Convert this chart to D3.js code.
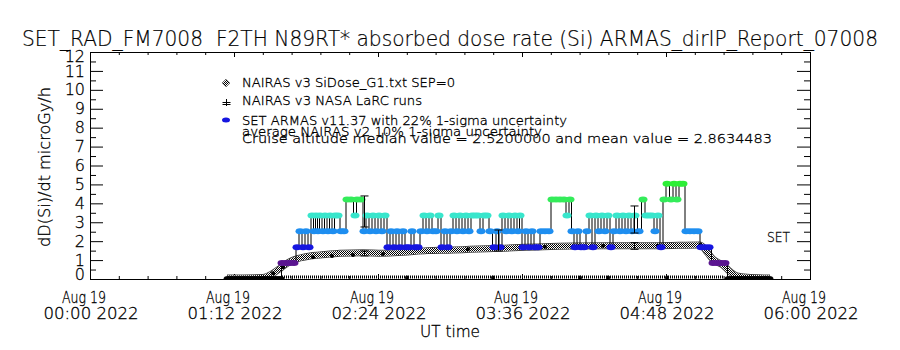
<!DOCTYPE html>
<html><head><meta charset="utf-8">
<script src="https://cdn.jsdelivr.net/npm/d3@7"></script>
<style>
body{margin:0;background:#fff;}
svg text{font-family:"DejaVu Sans",sans-serif;font-weight:200;fill:#000;white-space:pre;stroke:#000;stroke-width:0.3px;}
</style></head><body><svg id="c" width="900" height="350"></svg>
<script>
// ---------------- data ----------------
const title = "SET_RAD_FM7008  F2TH N89RT* absorbed dose rate (Si) ARMAS_dirIP_Report_07008";
const yLabel = "dD(Si)/dt microGy/h";
const xLabel = "UT time";
const yTicks = [0,1,2,3,4,5,6,7,8,9,10,11,12];
const yMinorTicks = [0.5,1.5,2.5,3.5,4.5,5.5,6.5,7.5,8.5,9.5,10.5,11.5];
const xMajorMinutes = [0,72,144,216,288,360];
const xMinorMinutes = [14.4,28.8,43.2,57.6,86.4,100.8,115.2,129.6,158.4,172.8,187.2,201.6,230.4,244.8,259.2,273.6,302.4,316.8,331.2,345.6];
const legendLabels = ["NAIRAS v3 SiDose_G1.txt SEP=0","NAIRAS v3 NASA LaRC runs","SET ARMAS v11.37 with 22% 1-sigma uncertainty"];
const noteLines = ["average NAIRAS v2 10% 1-sigma uncertainty","Cruise altitude median value = 2.5200000 and mean value = 2.8634483"];
const instrumentLabel = "SET";

// NAIRAS v3 SiDose model curve (minutes after 00:00 UT, microGy/h)
const nairasMin = [68.5,86.5,91.5,95.8,100,105,110,115,125,136.5,146.5,156.5,168.5,181.5,190,205,226.5,256.5,283.5,305,309,311.5,316.5,320,323.5,328.5,340];
const nairasVal = [0.05,0.08,0.30,0.62,0.92,1.11,1.22,1.27,1.36,1.39,1.36,1.41,1.50,1.53,1.57,1.62,1.71,1.76,1.76,1.80,1.36,1.04,0.74,0.39,0.16,0.09,0.05];

// NAIRAS v3 NASA LaRC runs
const larcMin = [91.5,96.5,111.5,121,131.5,146.5,189,204,227.5,256.5,284,305];
const larcVal = [0.30,0.62,1.15,1.22,1.27,1.32,1.57,1.62,1.71,1.76,1.76,1.80];

// near-zero baseline component
const baseMin = [96,150,200,250,317];
const baseVal = [0.1,0.1,0.1,0.1,0.1];
const baseDotMin = [158.5,201.5,245,259,288.5];
const baseDotVal = [0.08,0.08,0.08,0.08,0.08];

// SET ARMAS measurements
const armasMin = [69,71,73,75,77,79,81,83,85,87,89,91,93,95,
 96,98,100,102,103.5,105,106.5,108,109.5,111,112,113,114,115,116.5,117.5,119,120,121.5,122.5,124,125.5,127,
 128.5,130.5,132.5,133.5,135.5,137,138.5,140,141.5,143,144.5,146,147.5,149,150.5,152,153.5,155,156.5,158,159.5,
 161,162.5,164,165.5,167,168.5,170,171.5,173,174.5,176,177.5,179,180.5,182,183.5,185,186.5,188,189.5,191,192.5,
 194,195.5,197,198.5,200,202,203.5,205,206.5,208,209.5,211,212.5,214,215,216.5,218,219.5,221,222.5,224,225.5,
 227.5,229.5,231,233,235,237,238.5,240,241,242.5,244,245.5,247,248.5,250,251.5,253,254.5,256,257.5,259,260.5,
 262,263.5,265,266.5,268,269.5,271,272.5,274.5,276.5,278,279.5,281,282.5,284,285.5,287,288.5,290.5,292,293.5,
 295,296.5,298,300,302,304,305.5,307.5,309.5,311.5,313.5,315.5,317.5,
 319.5,321.5,323.5,325.5,327.5,329.5,331.5,333.5,335.5,337.5,339.5];
const armasVal = [0,0,0,0,0,0,0,0,0,0,0,0,0,0,
 0.84,0.84,0.84,0.84,1.68,2.52,1.68,2.52,1.68,3.36,2.52,3.36,2.52,3.36,2.52,3.36,2.52,3.36,2.52,3.36,3.36,2.52,2.52,
 4.2,4.2,3.36,4.2,4.2,2.52,3.36,2.52,3.36,2.52,3.36,2.52,3.36,1.68,2.52,1.68,2.52,1.68,2.52,1.68,1.68,
 2.52,1.68,1.68,2.52,3.36,2.52,3.36,2.52,2.52,3.36,1.68,2.52,1.68,2.52,3.36,2.52,3.36,2.52,3.36,2.52,3.36,3.36,
 3.36,2.52,3.36,3.36,2.52,1.68,2.52,1.68,3.36,2.52,3.36,2.52,3.36,2.52,3.36,1.68,2.52,1.68,2.52,1.68,1.68,2.52,
 2.52,2.52,4.2,4.2,4.2,4.2,3.36,4.2,2.52,1.68,2.52,1.68,1.68,2.52,3.36,1.68,3.36,2.52,3.36,2.52,3.36,1.68,
 2.52,3.36,2.52,3.36,2.52,3.36,2.52,3.36,2.52,4.2,3.36,3.36,3.36,2.52,3.36,1.68,4.2,5.04,4.2,5.04,4.2,
 5.04,5.04,2.52,2.52,2.52,2.52,1.68,1.68,1.68,0.84,0.84,0.84,0.84,
 0,0,0,0,0,0,0,0,0,0,0];
const levelVals = [0,0.84,1.68,2.52,3.36,4.2,5.04];
const levelColors = ["#000000","#5a1590","#1616e0","#1e8ef0","#38e6cc","#34ec5a","#2cee36"];

// uncertainty bars
const errMin = [137,137,204,272,272];
const errLo  = [2.75,1.22,1.48,2.43,1.57];
const errHi  = [4.39,1.48,2.59,3.86,1.92];

// ---------------- drawing ----------------
const svg = d3.select("#c");
const L=90,R=810,T=52,B=279;
const t0 = Date.UTC(2022,7,19,0,0);
const toDate = m => new Date(t0 + m*60000);
const x = d3.scaleUtc().domain([toDate(0), toDate(360)]).range([L,R]);
const y = d3.scaleLinear().domain([0,12]).range([B,T]);
const color = d3.scaleOrdinal().domain(levelVals).range(levelColors);

const defs = svg.append("defs");
const pat = defs.append("pattern").attr("id","chk").attr("width",2).attr("height",2).attr("patternUnits","userSpaceOnUse");
pat.append("rect").attr("width",2).attr("height",2).attr("fill","#fff");
pat.append("rect").attr("x",0).attr("y",0).attr("width",1).attr("height",1).attr("fill","#000");
pat.append("rect").attr("x",1).attr("y",1).attr("width",1).attr("height",1).attr("fill","#000");
defs.append("clipPath").attr("id","clip").append("rect").attr("x",L).attr("y",T).attr("width",R-L).attr("height",B-T);

// title
svg.append("text").attr("x",22).attr("y",46).attr("font-size",22).attr("xml:space","preserve").style("stroke-width","0.2px")
  .attr("textLength",856).attr("lengthAdjust","spacingAndGlyphs").text(title);

// axes
function styleAxis(g){ g.select(".domain").remove(); g.selectAll("line").attr("stroke","#000"); g.attr("font-family",null).attr("font-size",null); }
svg.append("g").attr("transform",`translate(${L},0)`)
  .call(d3.axisLeft(y).tickValues(yTicks).tickSize(-13).tickPadding(5).tickFormat(d3.format("d")))
  .call(styleAxis)
  .call(g=>g.selectAll("text").attr("font-size",16).attr("y",d=>d===12?4:(d===0?-5:0)));
svg.append("g").attr("transform",`translate(${L},0)`)
  .call(d3.axisLeft(y).tickValues(yMinorTicks).tickSize(-6).tickFormat("")).call(styleAxis);
svg.append("g").attr("transform",`translate(${R},0)`)
  .call(d3.axisRight(y).tickValues(yTicks).tickSize(-13).tickFormat("")).call(styleAxis);
svg.append("g").attr("transform",`translate(${R},0)`)
  .call(d3.axisRight(y).tickValues(yMinorTicks).tickSize(-6).tickFormat("")).call(styleAxis);
const majDates = xMajorMinutes.map(toDate), minDates = xMinorMinutes.map(toDate);
svg.append("g").attr("transform",`translate(0,${B})`)
  .call(d3.axisBottom(x).tickValues(majDates).tickSize(-5).tickFormat("")).call(styleAxis);
svg.append("g").attr("transform",`translate(0,${B})`)
  .call(d3.axisBottom(x).tickValues(minDates).tickSize(-3).tickFormat("")).call(styleAxis);
svg.append("g").attr("transform",`translate(0,${T})`)
  .call(d3.axisTop(x).tickValues(majDates).tickSize(-5).tickFormat("")).call(styleAxis);
svg.append("g").attr("transform",`translate(0,${T})`)
  .call(d3.axisTop(x).tickValues(minDates).tickSize(-3).tickFormat("")).call(styleAxis);
svg.append("rect").attr("x",L+0.5).attr("y",T+0.5).attr("width",R-L).attr("height",B-T)
  .attr("fill","none").attr("stroke","#000");

// x tick labels
const fDay = d3.utcFormat("%b %d"), fTime = d3.utcFormat("%H:%M %Y");
const xl = svg.append("g");
majDates.forEach(d=>{
  xl.append("text").attr("x",x(d)-6).attr("y",303).attr("font-size",15).attr("text-anchor","middle")
    .attr("textLength",44).attr("lengthAdjust","spacingAndGlyphs").text(fDay(d));
  xl.append("text").attr("x",x(d)+1).attr("y",319).attr("font-size",15).attr("text-anchor","middle")
    .attr("textLength",95).attr("lengthAdjust","spacingAndGlyphs").text(fTime(d));
});
svg.append("text").attr("x",450).attr("y",337).attr("font-size",15).attr("text-anchor","middle")
  .attr("textLength",60).attr("lengthAdjust","spacingAndGlyphs").text(xLabel);
svg.append("text").attr("transform","translate(50,167) rotate(-90)").attr("font-size",16)
  .attr("text-anchor","middle").attr("textLength",160).attr("lengthAdjust","spacingAndGlyphs").text(yLabel);

// data layer
const plot = svg.append("g").attr("clip-path","url(#clip)");
const lineXY = d3.line().x(d=>x(toDate(d[0]))).y(d=>y(d[1]));
const nairas = nairasMin.map((m,i)=>[m,nairasVal[i]]);
const nPath = d3.line().x(d=>x(toDate(d[0]))).y(d=>y(d[1])).curve(d3.curveMonotoneX)(nairas);
plot.append("path").attr("d",nPath).attr("fill","none").attr("stroke","#000").attr("stroke-width",7).attr("stroke-opacity",0.75);
plot.append("path").attr("d",nPath).attr("fill","none").attr("stroke","#fff").attr("stroke-width",5);
plot.append("path").attr("d",nPath).attr("fill","none").attr("stroke","url(#chk)").attr("stroke-width",5);
const base = baseMin.map((m,i)=>[m,baseVal[i]]);
plot.append("path").attr("d",lineXY(base)).attr("fill","none")
  .attr("stroke","#000").attr("stroke-width",3).attr("stroke-dasharray","1 1");
plot.selectAll(".bd").data(baseDotMin).join("circle").attr("cx",(m)=>x(toDate(m))).attr("cy",(m,i)=>y(baseDotVal[i])).attr("r",2).attr("fill","#000");
plot.selectAll(".ld").data(larcMin).join("circle").attr("cx",m=>x(toDate(m))).attr("cy",(m,i)=>y(larcVal[i])).attr("r",2).attr("fill","#000");

const armas = armasMin.map((m,i)=>[m,armasVal[i]]);
plot.append("path").attr("d",d3.line().x(d=>Math.round(x(toDate(d[0])))+0.5).y(d=>y(d[1])).curve(d3.curveStep)(armas)).attr("fill","none")
  .attr("stroke","#000").attr("stroke-width",1);
plot.selectAll(".ar").data(armas).join("ellipse").attr("cx",d=>x(toDate(d[0]))).attr("cy",d=>y(d[1]))
  .attr("rx",4.5).attr("ry",3).attr("fill",d=>color(d[1]));

// error bars
errMin.forEach((m,i)=>{
  const cx = Math.round(x(toDate(m)))+0.5, y1=y(errLo[i]), y2=y(errHi[i]);
  const g = plot.append("g").attr("stroke","#000").attr("stroke-width",1);
  g.append("line").attr("x1",cx).attr("x2",cx).attr("y1",y1).attr("y2",y2);
  g.append("line").attr("x1",cx-4).attr("x2",cx+4).attr("y1",y1).attr("y2",y1);
  g.append("line").attr("x1",cx-4).attr("x2",cx+4).attr("y1",y2).attr("y2",y2);
});

// legend
const lg = svg.append("g");
lg.append("path").attr("d","M226,79 L230,83 L226,87 L222,83 Z").attr("fill","url(#chk)").attr("stroke","#555").attr("stroke-width",0.5);
lg.append("path").attr("d","M226.5,99 V106 M222.5,102.5 H230.5 M222.5,104.5 H230.5").attr("stroke","#000").attr("stroke-width",1);
lg.append("ellipse").attr("cx",226).attr("cy",120).attr("rx",4).attr("ry",2.5).attr("fill","#1616e0");
const lw = [213,180,325];
const ly = [86.5,105,125];
legendLabels.forEach((t,i)=>lg.append("text").attr("x",242).attr("y",ly[i]).attr("font-size",12)
  .attr("textLength",lw[i]).attr("lengthAdjust","spacingAndGlyphs").text(t));
const nw = [300,530], ny=[136,142.5];
noteLines.forEach((t,i)=>lg.append("text").attr("x",242).attr("y",ny[i]).attr("font-size",12)
  .attr("textLength",nw[i]).attr("lengthAdjust","spacingAndGlyphs").text(t));
svg.append("text").attr("x",767).attr("y",242).attr("font-size",14).attr("textLength",23)
  .attr("lengthAdjust","spacingAndGlyphs").text(instrumentLabel);
</script></body></html>
